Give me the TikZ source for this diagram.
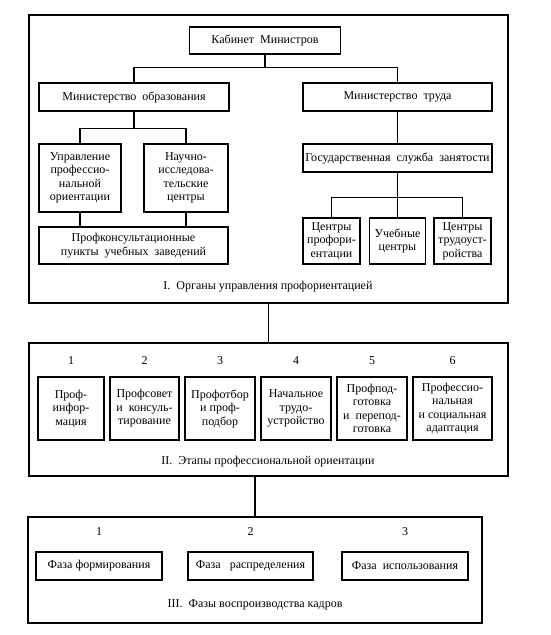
\documentclass[tikz,border=0pt]{standalone}
\usepackage{fontspec}
\setmainfont{Liberation Serif}
\usetikzlibrary{positioning}

\begin{document}
\begin{tikzpicture}[font=\fontsize{12pt}{13.5pt}\selectfont,
		frame/.style={draw, line width=1.4pt, inner sep=0pt},
		box/.style={draw, line width=1.2pt, align=center, inner sep=1pt},
		link/.style={draw, line width=1.2pt}]
		\useasboundingbox (0pt, 0pt) rectangle (550pt, -635pt);
		\node [frame, minimum width=479pt, minimum height=288pt] (organs) at (268.5pt, -159pt) {};
		\node [box, minimum width=151pt, minimum height=27pt] (cabinet) at (265pt, -40.5pt) {Кабинет\ \ Министров};
		\node [box, minimum width=190pt, minimum height=28pt] (minobr) at (134pt, -97pt) {Министерство\ \ образования};
		\node [box, minimum width=189pt, minimum height=28pt] (mintrud) at (397.5pt, -97pt) {Министерство\ \ труда};
		\path [link] (cabinet.south) -- ++(0pt, -13pt) -| (minobr.north);
		\path [link] (cabinet.south) ++(0pt, -13pt) -| (mintrud.north);
		\node [box, minimum width=82pt, minimum height=68pt] (upravl) at (80pt, -178pt) {Управление\\профессио-\\нальной\\ориентации};
		\node [box, minimum width=84pt, minimum height=68pt] (nauch) at (186pt, -178pt) {Научно-\\исследова-\\тельские\\центры};
		\path [link] (minobr.south) -- ++(0pt, -17pt) -| (upravl.north);
		\path [link] (minobr.south) ++(0pt, -17pt) -| (nauch.north);
		\node [box, minimum width=189pt, minimum height=37pt] (profkons) at (133.5pt, -245.5pt) {Профконсультационные\\пункты\ \ учебных\ \ заведений};
		\path [link] (upravl.south) -- (profkons.north -| upravl.south);
		\path [link] (nauch.south) -- (profkons.north -| nauch.south);
		\node [box, minimum width=189pt, minimum height=28pt] (gossl) at (397.5pt, -158pt) {Государственная\ \ служба\ \ занятости};
		\path [link] (mintrud.south) -- (gossl.north);
		\node [box, minimum width=57pt, minimum height=46pt] (cprof) at (331.5pt, -241pt) {Центры\\профори-\\ентации};
		\node [box, minimum width=56pt, minimum height=46pt] (cucheb) at (397.5pt, -241pt) {Учебные\\центры};
		\node [box, minimum width=57pt, minimum height=46pt] (ctrud) at (462.5pt, -241pt) {Центры\\трудоуст-\\ройства};
		\path [link] (gossl.south) -- (cucheb.north);
		\path [link] (gossl.south) ++(0pt, -25pt) -| (cprof.north);
		\path [link] (gossl.south) ++(0pt, -25pt) -| (ctrud.north);
		\node (organslabel) at (268pt, -287pt) {I.\ \ Органы управления профориентацией};
		\node [frame, minimum width=479pt, minimum height=133pt] (stages) at (268.5pt, -409.5pt) {};
		\path [link] (organs.south) -- (stages.north);
		\node (nI) at (71pt, -361pt) {1};
		\node (nII) at (144.5pt, -361pt) {2};
		\node (nIII) at (220pt, -361pt) {3};
		\node (nIV) at (296pt, -361pt) {4};
		\node (nV) at (372pt, -361pt) {5};
		\node (nVI) at (452.5pt, -361pt) {6};
		\node [box, minimum width=66pt, minimum height=63pt] (sinfo) at (71pt, -408.5pt) {Проф-\\инфор-\\мация};
		\node [box, minimum width=69pt, minimum height=63pt] (ssovet) at (144.5pt, -408.5pt) {Профсовет\\и\ \ консуль-\\тирование};
		\node [box, minimum width=70pt, minimum height=63pt] (sotbor) at (220pt, -408.5pt) {Профотбор\\и проф-\\подбор};
		\node [box, minimum width=70pt, minimum height=63pt] (strud) at (296pt, -408.5pt) {Начальное\\трудо-\\устройство};
		\node [box, minimum width=70pt, minimum height=63pt] (spodg) at (372pt, -408.5pt) {Профпод-\\готовка\\и\ \ перепод-\\готовка};
		\node [box, minimum width=79pt, minimum height=63pt] (sadapt) at (452.5pt, -408.5pt) {Профессио-\\нальная\\и социальная\\адаптация};
		\node (stageslabel) at (268pt, -462pt) {II.\ \ Этапы профессиональной ориентации};
		\node [frame, minimum width=454pt, minimum height=106pt] (phases) at (255pt, -570pt) {};
		\path [link] (phases.north) -- (phases.north |- stages.south);
		\node (pI) at (99pt, -532pt) {1};
		\node (pII) at (250.5pt, -532pt) {2};
		\node (pIII) at (405pt, -532pt) {3};
		\node [box, minimum width=126pt, minimum height=28pt] (pform) at (99pt, -566pt) {Фаза формирования};
		\node [box, minimum width=125pt, minimum height=28pt] (praspr) at (250.5pt, -566pt) {Фаза\ \ \ распределения};
		\node [box, minimum width=126pt, minimum height=28pt] (pisp) at (405pt, -566pt) {Фаза\ \ использования};
		\node (phaseslabel) at (255pt, -605pt) {III.\ \ Фазы воспроизводства кадров};
	\end{tikzpicture}
\end{document}
